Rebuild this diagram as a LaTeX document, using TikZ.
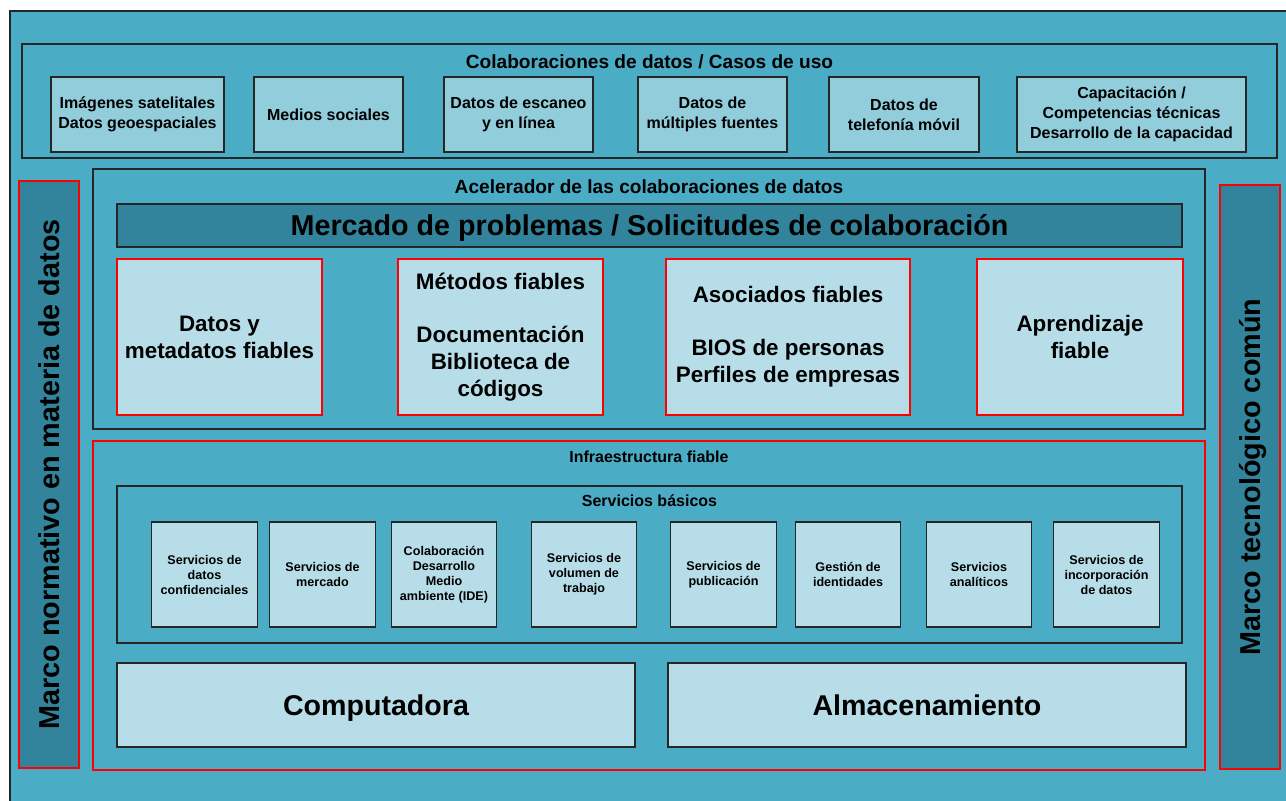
\documentclass[tikz,border=0pt]{standalone}
\usepackage{fontspec}
\setmainfont{Liberation Sans}
\definecolor{bgc}{HTML}{4BACC6}
\definecolor{topc}{HTML}{92CDDC}
\definecolor{lightc}{HTML}{B7DEE8}
\definecolor{darkc}{HTML}{31849B}
\definecolor{redc}{HTML}{FF0000}
\begin{document}
\begin{tikzpicture}[x=1pt,y=-1pt,
  frame/.style={draw=black!85, line width=1.3pt, fill=bgc, inner sep=0pt},
  redframe/.style={draw=redc, line width=1.6pt, fill=bgc, inner sep=0pt},
  topbox/.style={draw=black!85, line width=1.3pt, fill=topc, inner sep=0pt, align=center,
     minimum height=75pt, font=\bfseries\fontsize{16}{20}\selectfont},
  redbox/.style={draw=redc, line width=1.4pt, fill=lightc, inner sep=0pt, align=center,
     minimum height=156pt, font=\bfseries\fontsize{22.4}{27}\selectfont},
  svcbox/.style={draw=black!85, line width=1.2pt, fill=lightc, inner sep=0pt, align=center,
     minimum width=105.5pt, minimum height=105pt, font=\bfseries\fontsize{12.6}{15}\selectfont},
  bigbox/.style={draw=black!85, line width=1.2pt, fill=lightc, inner sep=0pt, align=center,
     minimum width=518pt, minimum height=84pt, text height=20.5pt, text depth=0pt,
     font=\bfseries\fontsize{28.6}{32}\selectfont},
  sidebar/.style={draw=redc, line width=1.6pt, fill=darkc, inner sep=0pt, rotate=90,
     minimum height=60pt, text height=20.5pt, text depth=0pt,
     font=\bfseries\fontsize{28.8}{32}\selectfont},
  titletext/.style={anchor=base, inner sep=0pt, font=\bfseries\fontsize{19.1}{22}\selectfont},
  subtitle/.style={anchor=base, inner sep=0pt, font=\bfseries\fontsize{16}{18}\selectfont}
]
\useasboundingbox (0,0) rectangle (1286,801);
\clip (0,0) rectangle (1286,801);
\fill[white] (0,0) rectangle (1286,801);
% outer background
\draw[fill=bgc, draw=black!85, line width=1.5pt] (10,11) rectangle (1310,830);
\coordinate (outerTL) at (10,11);

% top frame
\node[frame, minimum width=1255pt, minimum height=114pt] (topframe) at (649.5,101) {};
\node[titletext] (toptitle) at (649.5,68.5) {Colaboraciones de datos / Casos de uso};
\node[topbox, minimum width=173pt] (t1) at (137.5,114.5) {Imágenes satelitales\\Datos geoespaciales};
\node[topbox, minimum width=149pt] (t2) at (328.5,114.5) {Medios sociales};
\node[topbox, minimum width=149pt] (t3) at (518.5,114.5) {Datos de escaneo\\y en línea};
\node[topbox, minimum width=149pt] (t4) at (712.5,114.5) {Datos de\\múltiples fuentes};
\node[topbox, minimum width=150pt] (t5) at (904,114.5) {Datos de\\telefonía móvil};
\node[topbox, minimum width=229pt] (t6) at (1131.5,114.5) {Capacitación /\\Competencias técnicas\\Desarrollo de la capacidad};

% side bars
\node[sidebar, minimum width=587pt] (leftbar) at (49,474.5) {Marco normativo en materia de datos};
\node[sidebar, minimum width=584pt] (rightbar) at (1250,477) {Marco tecnológico común};

% accelerator
\node[frame, minimum width=1112pt, minimum height=260pt] (accframe) at (649,299) {};
\node[titletext] (acctitle) at (649,193) {Acelerador de las colaboraciones de datos};
\node[draw=black!85, line width=1.3pt, fill=darkc, inner sep=0pt, minimum width=1065pt, minimum height=43pt,
      text height=20.5pt, text depth=0pt,
      font=\bfseries\fontsize{28.7}{32}\selectfont] (mercado) at (649.5,225.5) {Mercado de problemas / Solicitudes de colaboración};
\node[redbox, minimum width=205pt] (r1) at (219.5,337) {Datos y\\metadatos fiables};
\node[redbox, minimum width=205pt] (r2) at (500.5,337) {Métodos fiables\\[26pt]Documentación\\Biblioteca de\\códigos};
\node[redbox, minimum width=244pt] (r3) at (788,337) {Asociados fiables\\[26pt]BIOS de personas\\Perfiles de empresas};
\node[redbox, minimum width=206pt] (r4) at (1080,337) {Aprendizaje\\fiable};

% infrastructure
\node[redframe, minimum width=1112pt, minimum height=329pt] (infraframe) at (649,605.5) {};
\node[subtitle] (infratitle) at (649,462.5) {Infraestructura fiable};
\node[frame, line width=1.2pt, minimum width=1065pt, minimum height=157pt] (svcframe) at (649.5,564.5) {};
\node[subtitle] (svctitle) at (649.5,506.5) {Servicios básicos};
\node[svcbox] (s1) at (204.5,574.5) {Servicios de\\datos\\confidenciales};
\node[svcbox] (s2) at (322.5,574.5) {Servicios de\\mercado};
\node[svcbox] (s3) at (444,574.5) {Colaboración\\Desarrollo\\Medio\\ambiente (IDE)};
\node[svcbox] (s4) at (584,574.5) {Servicios de\\volumen de\\trabajo};
\node[svcbox] (s5) at (723.5,574.5) {Servicios de\\publicación};
\node[svcbox] (s6) at (848,574.5) {Gestión de\\identidades};
\node[svcbox] (s7) at (979,574.5) {Servicios\\analíticos};
\node[svcbox] (s8) at (1106.5,574.5) {Servicios de\\incorporación\\de datos};
\node[bigbox] (compu) at (376,705) {Computadora};
\node[bigbox] (almac) at (927,705) {Almacenamiento};
\end{tikzpicture}
\end{document}
